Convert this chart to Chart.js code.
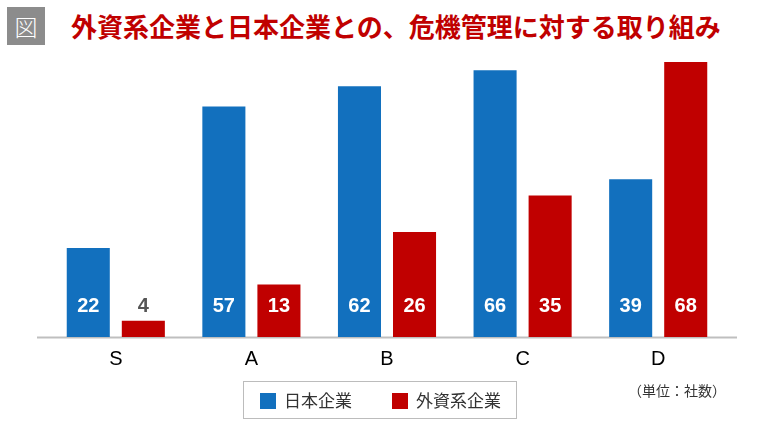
<!DOCTYPE html>
<html>
<head>
<meta charset="utf-8">
<script src="https://cdn.jsdelivr.net/npm/chart.js@4"></script>
<style>
  html, body { margin: 0; padding: 0; background: #fff; }
  body { width: 784px; height: 423px; position: relative; overflow: hidden; font-family: "Noto Sans CJK JP", sans-serif; }
  #badge { position: absolute; left: 7px; top: 7px; width: 38px; height: 38px; background: #8c8c8c; color: #fff;
    font-size: 23px; font-weight: 300; line-height: 38px; text-align: center; }
  #title { position: absolute; left: 71px; top: 5px; font-size: 26px; line-height: 42px; color: #c00000;
    font-weight: 700; white-space: nowrap; }
  #wrap { position: absolute; left: 0; top: 0; width: 784px; height: 423px; }
  #legend { position: absolute; left: 243px; top: 381px; width: 274px; height: 38px; border: 1px solid #bcbcbc;
    box-sizing: border-box; font-size: 17px; color: #333; }
  #legend span.item { position: absolute; top: 0; line-height: 36px; white-space: nowrap; }
  #legend i { display: inline-block; width: 16px; height: 16px; vertical-align: -2px; margin-right: 8px; }
  #unit { position: absolute; left: 628px; top: 380px; font-size: 14px; color: #333; line-height: 20px; white-space: nowrap; }
</style>
</head>
<body>
<div id="badge">図</div>
<div id="title">外資系企業と日本企業との、危機管理に対する取り組み</div>
<div id="wrap"><canvas id="chart" width="784" height="423"></canvas></div>
<div id="legend"></div>
<div id="unit">（単位：社数）</div>
<script>
var categories = ["S", "A", "B", "C", "D"];
var seriesNames = ["日本企業", "外資系企業"];
var japanValues = [22, 57, 62, 66, 39];
var foreignValues = [4, 13, 26, 35, 68];
var seriesColors = ["#1270be", "#c00000"];

// legend (html so it can have the box round it)
var legend = document.getElementById("legend");
var legendX = [16, 148];
for (var i = 0; i < seriesNames.length; i++) {
  var s = document.createElement("span");
  s.className = "item";
  s.style.left = legendX[i] + "px";
  s.innerHTML = "<i style='background:" + seriesColors[i] + "'></i>" + seriesNames[i];
  legend.appendChild(s);
}

// gray base line, a bit wider than the plot
var baseLine = {
  id: "baseLine",
  beforeDatasetsDraw: function(chart) {
    var a = chart.chartArea, ctx = chart.ctx;
    ctx.save();
    ctx.strokeStyle = "#bfbfbf";
    ctx.lineWidth = 2;
    ctx.beginPath();
    ctx.moveTo(a.left - 11, a.bottom + 0.5);
    ctx.lineTo(a.right + 11, a.bottom + 0.5);
    ctx.stroke();
    ctx.restore();
  }
};

// value labels near the bottom of each bar
var valueLabels = {
  id: "valueLabels",
  afterDatasetsDraw: function(chart) {
    var ctx = chart.ctx, a = chart.chartArea;
    ctx.save();
    ctx.font = "bold 20px 'Liberation Sans', Arial, sans-serif";
    ctx.textAlign = "center";
    ctx.textBaseline = "middle";
    chart.data.datasets.forEach(function(ds, di) {
      var meta = chart.getDatasetMeta(di);
      meta.data.forEach(function(bar, j) {
        var h = bar.base - bar.y;
        ctx.fillStyle = h > 40 ? "#fff" : "#555";
        ctx.fillText(ds.data[j], bar.x, a.bottom - 31);
      });
    });
    ctx.restore();
  }
};

new Chart(document.getElementById("chart"), {
  type: "bar",
  data: {
    labels: categories,
    datasets: [
      { label: seriesNames[0], data: japanValues, backgroundColor: seriesColors[0] },
      { label: seriesNames[1], data: foreignValues, backgroundColor: seriesColors[1] }
    ]
  },
  options: {
    responsive: false,
    animation: false,
    devicePixelRatio: 1,
    layout: { padding: { left: 48, right: 58, top: 54, bottom: 46 } },
    datasets: { bar: { categoryPercentage: 0.812, barPercentage: 0.782 } },
    plugins: { legend: { display: false }, tooltip: { enabled: false } },
    scales: {
      x: {
        grid: { display: false, drawTicks: false },
        border: { display: false },
        ticks: { color: "#000", padding: 10, font: { family: "'Liberation Sans', Arial, sans-serif", size: 20 } },
        afterFit: function(scale) { scale.height = 40; }
      },
      y: { display: false, min: 0, max: 70 }
    }
  },
  plugins: [baseLine, valueLabels]
});
</script>
</body>
</html>
